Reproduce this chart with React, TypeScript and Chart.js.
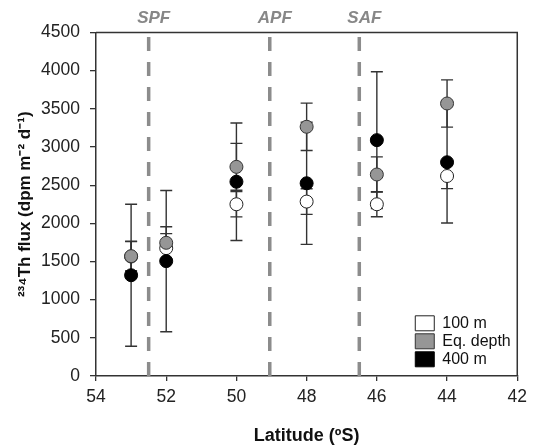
import { useEffect, useRef } from 'react';
import { Chart, registerables } from 'chart.js';

Chart.register(...registerables);

// ---- data ----
const latitudes = [53, 52, 50, 48, 46, 44];
const seriesLabels = ['100 m', 'Eq. depth', '400 m'];
const flux100 = [1565, 1675, 2250, 2285, 2250, 2620];
const err100 = [200, 190, 165, 168, 163, 165];
const fluxEq = [1570, 1745, 2740, 3265, 2640, 3570];
const errEq = [190, 210, 307, 310, 231, 310];
const flux400 = [1320, 1505, 2545, 2525, 3090, 2800];
const err400 = [930, 925, 770, 800, 895, 795];
const frontNames = ['SPF', 'APF', 'SAF'];
const frontLats = [52.5, 49.05, 46.5];
const xMin = 42;
const xMax = 54;
const xStep = 2;
const yMin = 0;
const yMax = 4500;
const yStep = 500;

const FONT = "'Liberation Sans', Arial, Helvetica, sans-serif";
const AXIS = '#333333';

const pts = (vals: number[]) => latitudes.map((lat, i) => ({ x: lat, y: vals[i] }));

const errorBars = {
  id: 'errorBars',
  beforeDatasetsDraw(chart: any) {
    const { ctx, scales } = chart;
    const x = scales.x;
    const y = scales.y;
    ctx.save();
    ctx.strokeStyle = AXIS;
    ctx.lineWidth = 1.4;
    chart.data.datasets.forEach((ds: any) => {
      const errs = ds.errors;
      if (!errs) return;
      ds.data.forEach((p: any, j: number) => {
        const px = x.getPixelForValue(p.x);
        const top = y.getPixelForValue(p.y + errs[j]);
        const bot = y.getPixelForValue(p.y - errs[j]);
        ctx.beginPath();
        ctx.moveTo(px, top);
        ctx.lineTo(px, bot);
        ctx.moveTo(px - 6, top);
        ctx.lineTo(px + 6, top);
        ctx.moveTo(px - 6, bot);
        ctx.lineTo(px + 6, bot);
        ctx.stroke();
      });
    });
    ctx.restore();
  },
};

const frameAndLabels = {
  id: 'frameAndLabels',
  afterDraw(chart: any) {
    const { ctx, chartArea, scales } = chart;
    ctx.save();
    ctx.strokeStyle = AXIS;
    ctx.lineWidth = 1.5;
    ctx.beginPath();
    ctx.moveTo(chartArea.left, chartArea.top);
    ctx.lineTo(chartArea.right, chartArea.top);
    ctx.lineTo(chartArea.right, chartArea.bottom);
    ctx.stroke();
    ctx.font = `italic bold 17px ${FONT}`;
    ctx.fillStyle = '#878787';
    ctx.textAlign = 'center';
    ctx.textBaseline = 'middle';
    frontLats.forEach((lat, i) => {
      ctx.fillText(frontNames[i], scales.x.getPixelForValue(lat) + 5, chartArea.top - 14);
    });
    ctx.restore();
  },
};

const legendPlace = {
  id: 'legendPlace',
  afterLayout(chart: any) {
    const lg = chart.legend;
    if (!lg) return;
    const ca = chart.chartArea;
    lg.left = ca.right - 104;
    lg.bottom = ca.bottom - 6.7;
  },
};

export default function App() {
  const ref = useRef<HTMLCanvasElement | null>(null);

  useEffect(() => {
    document.body.style.margin = '0';
    if (!ref.current) return;
    const frontSets = frontLats.map((lat) => ({
      type: 'line' as const,
      label: 'front',
      data: [
        { x: lat, y: yMin },
        { x: lat, y: yMax },
      ],
      borderColor: '#8c8c8c',
      borderWidth: 3.5,
      borderDash: [14, 11],
      borderCapStyle: 'butt' as const,
      pointRadius: 0,
      fill: false,
      order: 10,
    }));
    const chart = new Chart(ref.current, {
      type: 'scatter',
      data: {
        datasets: [
          {
            label: seriesLabels[0],
            data: pts(flux100),
            errors: err100,
            backgroundColor: '#ffffff',
            borderColor: '#222222',
            borderWidth: 1,
            pointRadius: 6.5,
            order: 3,
          } as any,
          {
            label: seriesLabels[1],
            data: pts(fluxEq),
            errors: errEq,
            backgroundColor: '#969696',
            borderColor: '#333333',
            borderWidth: 1,
            pointRadius: 6.5,
            order: 1,
          } as any,
          {
            label: seriesLabels[2],
            data: pts(flux400),
            errors: err400,
            backgroundColor: '#000000',
            borderColor: '#000000',
            borderWidth: 1,
            pointRadius: 6.5,
            order: 2,
          } as any,
          ...frontSets,
        ],
      },
      options: {
        animation: false,
        responsive: false,
        events: [],
        layout: { padding: { left: 0, right: 10, top: 32.5, bottom: 0 } },
        plugins: {
          tooltip: { enabled: false },
          legend: {
            position: 'chartArea',
            align: 'end',
            labels: {
              boxWidth: 19,
              boxHeight: 15,
              padding: 2,
              color: '#111111',
              font: { family: FONT, size: 16 },
              filter: (item: any) => item.datasetIndex < 3,
              sort: (a: any, b: any) => a.datasetIndex - b.datasetIndex,
            },
          },
        },
        scales: {
          x: {
            type: 'linear',
            reverse: true,
            min: xMin,
            max: xMax,
            ticks: {
              stepSize: xStep,
              padding: 6,
              color: '#222222',
              font: { family: FONT, size: 17.5 },
              callback: (v: any) => String(v),
            },
            grid: { drawOnChartArea: false, tickLength: 5, color: AXIS, lineWidth: 1.3 },
            border: { color: AXIS, width: 1.5 },
            title: {
              display: true,
              text: 'Latitude (ºS)',
              color: '#111111',
              font: { family: FONT, size: 18, weight: 'bold' },
              padding: { top: 0, bottom: 0 },
            },
            afterFit: (s: any) => {
              s.height = 71;
            },
          },
          y: {
            type: 'linear',
            min: yMin,
            max: yMax,
            ticks: {
              stepSize: yStep,
              padding: 10,
              color: '#222222',
              font: { family: FONT, size: 17.5 },
              callback: (v: any) => String(v),
            },
            grid: { drawOnChartArea: false, tickLength: 6, color: AXIS, lineWidth: 1.3 },
            border: { color: AXIS, width: 1.5 },
            title: {
              display: true,
              text: '²³⁴Th flux (dpm m⁻² d⁻¹)',
              color: '#111111',
              font: { family: FONT, size: 17, weight: 'bold' },
              padding: { top: 15, bottom: 0 },
            },
            afterFit: (s: any) => {
              s.width = 96;
            },
          },
        },
      } as any,
      plugins: [errorBars, frameAndLabels, legendPlace],
    });
    return () => chart.destroy();
  }, []);

  return (
    <div style={{ width: 533, height: 447, position: 'relative' }}>
      <canvas ref={ref} width={533} height={447} style={{ display: 'block' }} />
    </div>
  );
}
